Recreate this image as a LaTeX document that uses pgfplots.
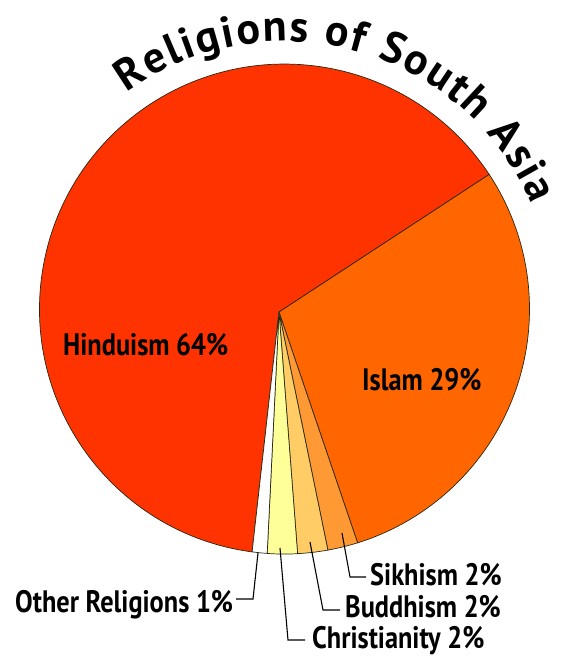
\documentclass[border=0pt]{standalone}
\usepackage{pgfplots}
\pgfplotsset{compat=1.18}
\usepackage{fontspec}
\setmainfont{PT Sans}
\newfontfamily\labelfont{PT Sans}[FakeStretch=0.85]
\newfontfamily\titlefont{PT Sans}
\usetikzlibrary{decorations.text}
\definecolor{hindu}{RGB}{255,51,0}
\definecolor{islam}{RGB}{255,102,0}
\definecolor{sikh}{RGB}{255,153,51}
\definecolor{buddh}{RGB}{255,204,102}
\definecolor{christ}{RGB}{255,255,153}
\definecolor{edge}{RGB}{40,40,20}
\newcommand\tf{\titlefont\bfseries\fontsize{44}{48}\selectfont}
\newcommand\lf{\labelfont\bfseries\fontsize{31}{34}\selectfont}
\begin{document}
\begin{tikzpicture}
\begin{axis}[scale only axis, width=566pt, height=659pt,
  xmin=0, xmax=566, ymin=0, ymax=659, y dir=reverse,
  hide axis, clip=false]
\path (axis cs:0,0) rectangle (axis cs:566,659);
% slices: Hinduism 64, Islam 29, Sikhism 2, Buddhism 2, Christianity 2, Other 1 (%)
\addplot[fill=hindu, draw=edge, line width=0.7pt] coordinates {(279,312) (252.1,551.9)} arc[start angle=-97.60, end angle=-326.67, radius=245pt] -- cycle;
\addplot[fill=islam, draw=edge, line width=0.7pt] coordinates {(279,312) (489.2,174.4)} arc[start angle=33.33, end angle=-72.64, radius=245pt] -- cycle;
\addplot[fill=sikh, draw=edge, line width=0.7pt] coordinates {(279,312) (357.6,542.8)} arc[start angle=-72.64, end angle=-79.80, radius=245pt] -- cycle;
\addplot[fill=buddh, draw=edge, line width=0.7pt] coordinates {(279,312) (327.9,550.1)} arc[start angle=-79.80, end angle=-86.94, radius=245pt] -- cycle;
\addplot[fill=christ, draw=edge, line width=0.7pt] coordinates {(279,312) (297.6,553.7)} arc[start angle=-86.94, end angle=-94.05, radius=245pt] -- cycle;
\addplot[fill=white, draw=edge, line width=0.7pt] coordinates {(279,312) (267.2,553.4)} arc[start angle=-94.05, end angle=-97.60, radius=245pt] -- cycle;
% leader lines
\addplot[black, line width=1.1pt] coordinates {(258,553) (253,599) (236,599)};
\addplot[black, line width=1.1pt] coordinates {(280,548) (288,640) (305,640)};
\addplot[black, line width=1.1pt] coordinates {(310,542) (323,610) (340,610)};
\addplot[black, line width=1.1pt] coordinates {(342,533) (350,577) (366,577)};
% labels
\node[anchor=base west, inner sep=0pt] at (axis cs:63,355) {\lf Hinduism 64\%};
\node[anchor=base west, inner sep=0pt] at (axis cs:362,390) {\lf Islam 29\%};
\node[anchor=base west, inner sep=0pt] at (axis cs:15,612) {\lf Other Religions 1\%};
\node[anchor=base west, inner sep=0pt] at (axis cs:370,585) {\lf Sikhism 2\%};
\node[anchor=base west, inner sep=0pt] at (axis cs:345,617) {\lf Buddhism 2\%};
\node[anchor=base west, inner sep=0pt] at (axis cs:312,648) {\lf Christianity 2\%};
% title
\path[decorate, decoration={text along path, text align={fit to path},
  text={|\tf|Religions of South Asia}}]
  (axis cs:127.0,92.5) arc[start angle=126, end angle=23, radius=268pt];
\end{axis}
\end{tikzpicture}
\end{document}
